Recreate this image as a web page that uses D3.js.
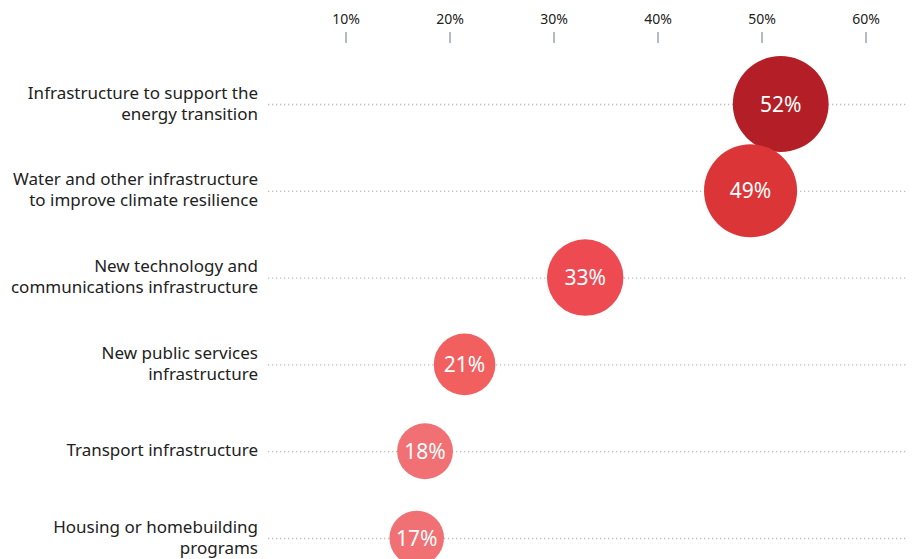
<!DOCTYPE html>
<html>
<head>
<meta charset="utf-8">
<script src="https://cdn.jsdelivr.net/npm/d3@7"></script>
<style>
  body { margin: 0; background: #fff; }
  text { font-family: "Noto Sans", sans-serif; }
</style>
</head>
<body>
<script>

var categories = [
  ["Infrastructure to support the", "energy transition"],
  ["Water and other infrastructure", "to improve climate resilience"],
  ["New technology and", "communications infrastructure"],
  ["New public services", "infrastructure"],
  ["Transport infrastructure"],
  ["Housing or homebuilding", "programs"]
];
var values = [51.8, 48.9, 33.0, 21.4, 17.6, 16.8];
var colors = ["#b41f27", "#dc3538", "#ee4a52", "#f1605f", "#f07074", "#f07074"];
var tickValues = [10, 20, 30, 40, 50, 60];

var width = 917;
var height = 559;

var svg = d3.select("body")
      .append("svg")
      .attr("width", width)
      .attr("height", height);

var x = d3.scaleLinear().domain([0, 60]).range([242, 866]);
var y = d3.scalePoint().domain(d3.range(categories.length)).range([104, 538]);
var r = d3.scaleSqrt().domain([0, 52]).range([0, 48]);

// top axis: labels above small ticks
var axis = svg.append("g");
axis.selectAll("line")
  .data(tickValues)
  .enter().append("line")
    .attr("x1", function(d) { return x(d); })
    .attr("x2", function(d) { return x(d); })
    .attr("y1", 32)
    .attr("y2", 43)
    .attr("stroke", "#b3bac1")
    .attr("stroke-width", 2);

axis.selectAll("text")
  .data(tickValues)
  .enter().append("text")
    .attr("x", function(d) { return x(d); })
    .attr("y", 24)
    .attr("text-anchor", "middle")
    .attr("font-size", "14px")
    .attr("fill", "#222")
    .text(function(d) { return d + "%"; });

// dotted guide lines
svg.append("g").selectAll("line")
  .data(categories)
  .enter().append("line")
    .attr("x1", 268)
    .attr("x2", 906)
    .attr("y1", function(d, i) { return y(i) + 0.5; })
    .attr("y2", function(d, i) { return y(i) + 0.5; })
    .attr("stroke", "#bdbdbd")
    .attr("stroke-width", 1.3)
    .attr("stroke-dasharray", "1.3,2.7");

// category labels
var labels = svg.append("g").selectAll("text")
  .data(categories)
  .enter().append("text")
    .attr("x", 258)
    .attr("text-anchor", "end")
    .attr("font-size", "17px")
    .attr("fill", "#222")
    .attr("y", function(d, i) { return y(i) - (d.length - 1) * 10.5 + 5; });

labels.selectAll("tspan")
  .data(function(d) { return d; })
  .enter().append("tspan")
    .attr("x", 258)
    .attr("dy", function(d, j) { return j == 0 ? 0 : 21; })
    .text(function(d) { return d; });

// bubbles
var bubble = svg.append("g").selectAll("g")
  .data(values)
  .enter().append("g")
    .attr("transform", function(d, i) { return "translate(" + x(d) + "," + y(i) + ")"; });

bubble.append("circle")
  .attr("r", function(d) { return r(d); })
  .attr("fill", function(d, i) { return colors[i]; });

bubble.append("text")
  .attr("text-anchor", "middle")
  .attr("y", 7.5)
  .attr("font-size", "21px")
  .attr("fill", "#fff")
  .text(function(d) { return Math.round(d) + "%"; });

</script>
</body>
</html>
